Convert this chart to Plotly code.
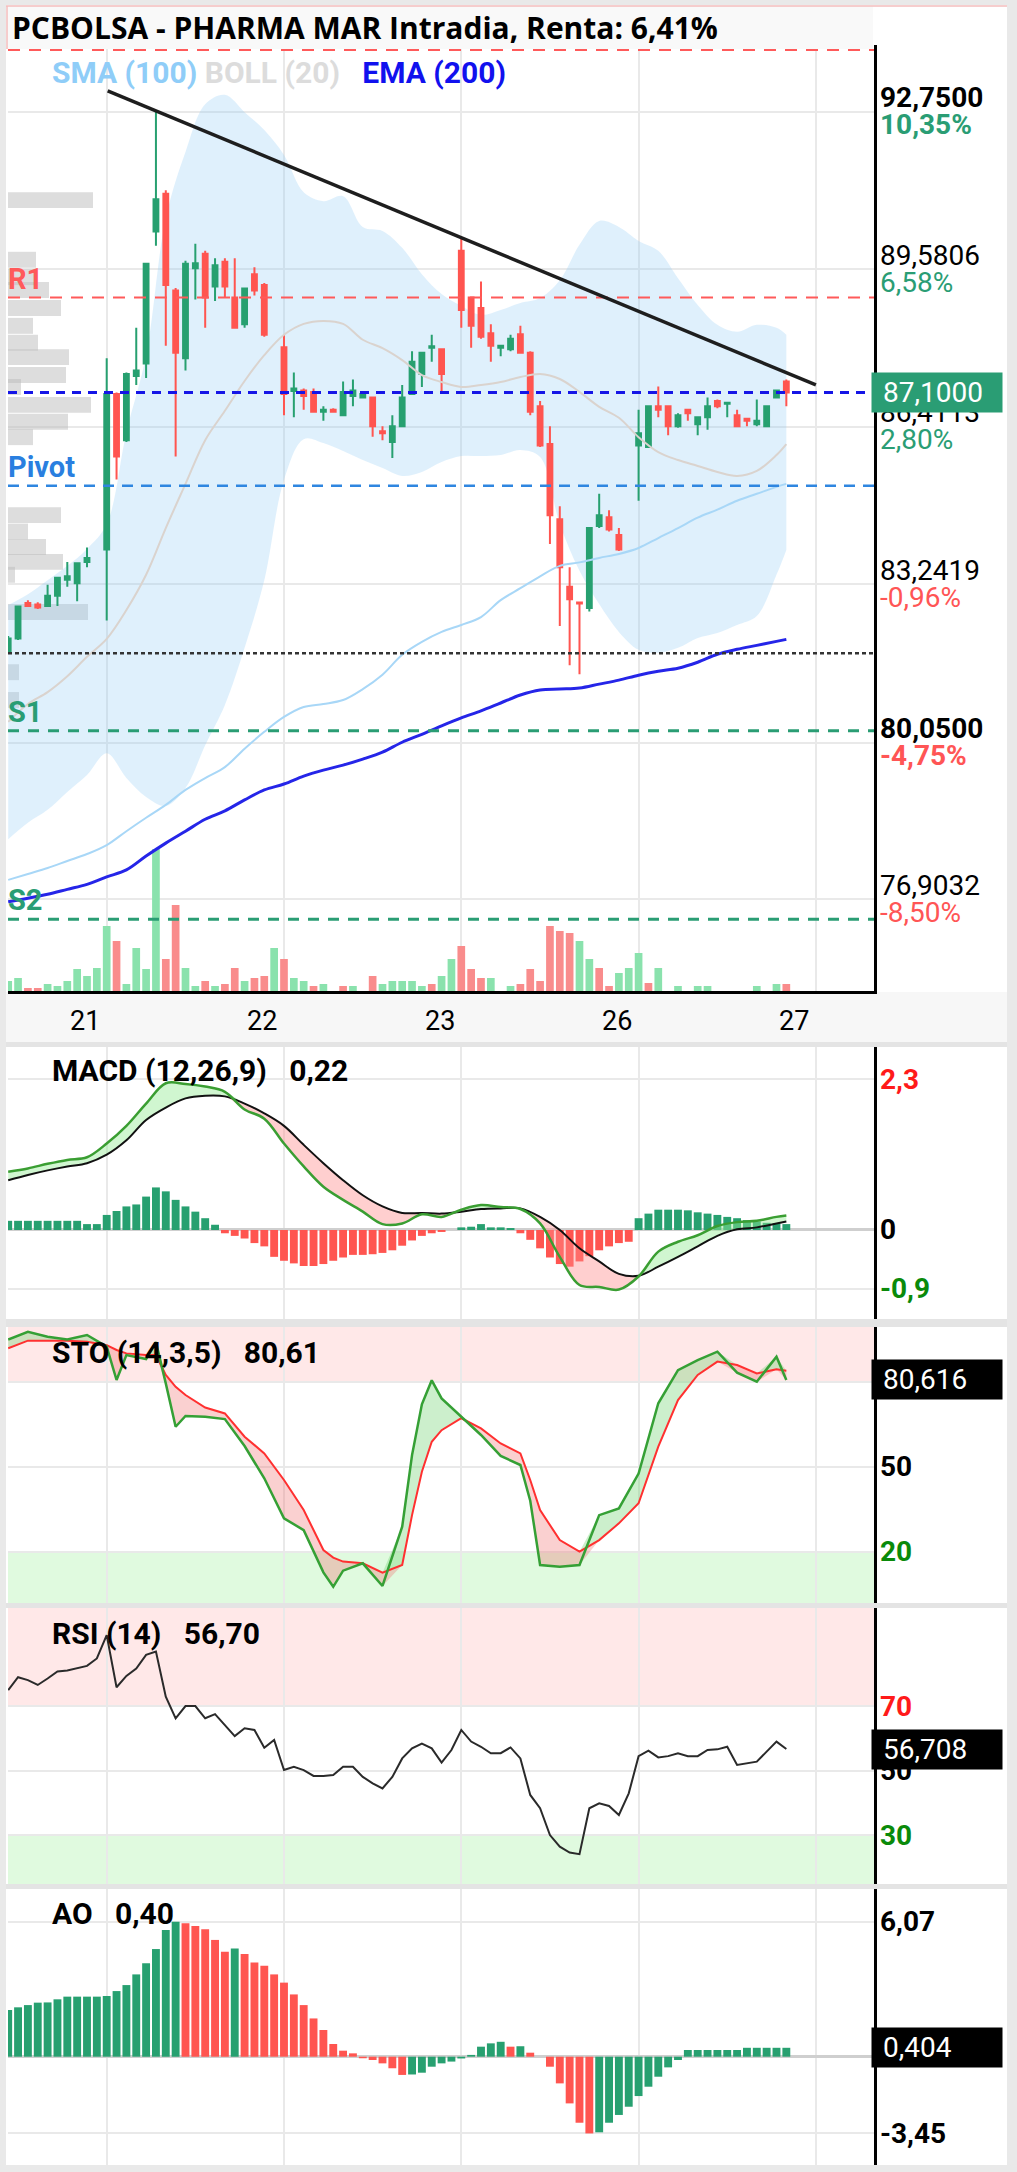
import numpy as np
import plotly.graph_objects as go

W, H = 1017, 2172

# ---------------- data ----------------
title_text = "PCBOLSA - PHARMA MAR Intradia, Renta: 6,41%"
day_labels = ["21", "22", "23", "26", "27"]
day_ticks = [10, 28, 46, 64, 82]

# 30-min candles (bar index on the time axis)
candle_x = [0, 1, 2, 3, 4, 5, 6, 7, 8,
            10, 11, 12, 13, 14, 15, 16, 17, 18, 19, 20, 21, 22, 23, 24, 25, 26,
            28, 29, 30, 31, 32, 33, 34, 35, 36, 37, 38, 39, 40, 41, 42, 43, 44,
            46, 47, 48, 49, 50, 51, 52, 53, 54, 55, 56, 57, 58, 59, 60, 61, 62,
            64, 65, 66, 67, 68, 69, 70, 71, 72, 73, 74, 75, 76, 77, 78, 79]
opens = [81.88, 82.15, 82.86, 82.83, 82.80, 83.01, 83.33, 83.26, 83.69,
         83.94, 87.07, 86.14, 87.43, 87.68, 90.34, 91.10, 89.15, 87.79, 89.60, 89.89, 89.23, 89.73, 89.01, 88.47, 89.48, 89.26,
         88.01, 87.13, 87.14, 87.11, 86.71, 86.75, 86.64, 87.03, 87.00, 87.00, 86.32, 86.10, 86.42, 87.07, 87.47, 88.00, 87.97,
         89.95, 89.01, 88.80, 88.29, 88.00, 87.97, 88.27, 87.90, 86.82, 86.06, 84.55, 83.19, 82.87, 82.76, 84.41, 84.59, 84.23,
         86.03, 86.00, 86.82, 86.82, 86.42, 86.75, 86.46, 86.60, 86.93, 86.87, 86.64, 86.57, 86.46, 86.42, 87.00, 87.32]
highs = [82.20, 82.80, 82.92, 82.88, 83.23, 83.38, 83.69, 83.66, 83.98,
         87.79, 87.10, 87.50, 88.40, 89.70, 92.75, 91.17, 89.20, 89.75, 90.09, 89.95, 89.80, 89.80, 89.80, 89.20, 89.62, 89.30,
         88.26, 87.50, 87.18, 87.18, 86.82, 86.78, 87.32, 87.36, 87.10, 87.00, 86.42, 86.64, 87.25, 87.93, 87.90, 88.26, 87.97,
         90.23, 89.01, 89.33, 88.47, 88.04, 88.26, 88.44, 87.93, 86.93, 86.42, 84.81, 83.58, 82.87, 84.37, 85.06, 84.73, 84.37,
         86.75, 86.82, 87.22, 86.82, 86.68, 86.75, 86.62, 87.00, 86.96, 86.89, 86.75, 86.57, 86.96, 86.82, 87.14, 87.36]
lows = [81.85, 82.12, 82.78, 82.74, 82.78, 82.80, 83.19, 82.90, 83.58,
        82.51, 85.35, 86.10, 87.25, 87.39, 90.05, 88.04, 85.81, 87.54, 88.97, 88.40, 88.94, 89.01, 88.40, 88.40, 89.05, 88.22,
        86.64, 86.60, 86.75, 86.71, 86.53, 86.70, 86.64, 86.82, 86.99, 86.21, 86.14, 85.78, 86.42, 87.07, 87.21, 87.72, 87.11,
        88.40, 88.00, 88.18, 87.72, 87.83, 87.93, 87.90, 86.64, 86.00, 84.05, 82.40, 81.61, 81.43, 82.69, 84.37, 84.30, 83.91,
        84.92, 86.00, 86.60, 86.24, 86.39, 86.53, 86.24, 86.35, 86.78, 86.60, 86.42, 86.42, 86.42, 86.42, 87.00, 86.82]
closes = [82.15, 82.79, 82.80, 82.77, 83.01, 83.37, 83.40, 83.66, 83.77,
          87.07, 85.81, 87.47, 87.54, 89.69, 90.99, 89.26, 87.90, 89.69, 89.70, 89.01, 89.66, 89.23, 88.40, 89.19, 89.15, 88.26,
          87.07, 87.18, 87.03, 86.71, 86.75, 86.71, 87.11, 87.14, 87.07, 86.42, 86.28, 86.42, 87.00, 87.72, 87.90, 88.03, 87.47,
          88.76, 88.44, 88.22, 88.04, 88.04, 88.18, 87.90, 86.71, 86.03, 84.63, 83.58, 82.94, 82.85, 84.37, 84.63, 84.34, 83.94,
          86.28, 86.82, 86.75, 86.42, 86.64, 86.68, 86.60, 86.82, 86.82, 86.89, 86.42, 86.53, 86.53, 86.82, 87.14, 87.10]

# volume per bar slot (relative units) and its colour side
volume = [10, 13, 3, 3, 7, 5, 10, 22, 15, 23, 65, 50, 7, 43, 22, 142, 32, 86, 23, 5,
          10, 5, 7, 23, 10, 13, 15, 43, 32, 13, 10, 5, 7, 0, 5, 5, 0, 15, 7, 10,
          10, 10, 5, 7, 15, 32, 45, 22, 13, 13, 0, 5, 7, 22, 10, 65, 60, 58, 50, 32,
          23, 5, 18, 23, 38, 8, 23, 0, 5, 0, 5, 5, 0, 0, 0, 0, 5, 0, 7, 7]
volume_side = "GGRRGGGGGGGRGGGGRRGGRGRRGRRGRGGRGGRGRRGGGGGRGGRRRGGGRRRRRRGGRRGGGRGGGRGGGGGGGGGR"

# volume-at-price profile (left side)
profile_price = [90.97, 89.77, 89.42, 89.16, 88.80, 88.44, 88.10, 87.81, 87.45, 87.21, 86.85,
                 86.51, 86.20, 84.63, 84.30, 83.99, 83.69, 83.43, 82.68, 81.47, 80.91]
profile_vol = [85, 28, 28, 41, 53, 25, 30, 61, 58, 13, 83, 60, 25, 53, 20, 38, 55, 7, 80, 11, 11]

# overlays sampled every other bar
line_x = [0, 2, 4, 6, 8, 10, 12, 14, 16, 18, 20, 22, 24, 26, 28, 30, 32, 34, 36, 38,
          40, 42, 44, 46, 48, 50, 52, 54, 56, 58, 60, 62, 64, 66, 68, 70, 72, 74, 76, 78, 79]
boll_upper = [82.82, 83.04, 83.32, 83.61, 83.95, 84.45, 86.30, 87.85, 90.61, 91.94, 92.90, 93.09, 92.74, 92.38,
              91.88, 91.13, 90.95, 91.05, 90.43, 90.35, 90.01, 89.48, 89.08, 88.84, 88.66, 88.76, 88.90, 89.00,
              89.36, 90.07, 90.55, 90.43, 90.15, 89.95, 89.40, 88.86, 88.46, 88.32, 88.46, 88.40, 88.26]
boll_lower = [78.11, 78.44, 78.70, 79.06, 79.40, 79.84, 79.34, 78.96, 78.78, 79.14, 80.00, 80.81, 81.96, 83.32,
              85.34, 86.16, 86.08, 85.92, 85.74, 85.58, 85.42, 85.50, 85.70, 85.82, 85.82, 85.84, 85.94, 85.80,
              84.45, 83.51, 82.84, 82.28, 81.92, 81.86, 81.96, 82.16, 82.26, 82.42, 82.60, 83.43, 83.93]
boll_mid = [80.47, 80.83, 81.07, 81.39, 81.78, 82.14, 82.72, 83.43, 84.37, 85.26, 86.14, 86.73, 87.33, 87.85,
            88.26, 88.48, 88.54, 88.48, 88.16, 87.99, 87.75, 87.45, 87.31, 87.21, 87.25, 87.31, 87.41, 87.47,
            87.37, 87.11, 86.81, 86.59, 86.20, 85.90, 85.74, 85.62, 85.50, 85.42, 85.52, 85.84, 86.06]
sma100 = [77.29, 77.41, 77.53, 77.67, 77.81, 77.99, 78.27, 78.54, 78.80, 79.10, 79.34, 79.56, 79.93, 80.27,
          80.57, 80.77, 80.83, 80.91, 81.13, 81.42, 81.82, 82.08, 82.28, 82.42, 82.58, 82.92, 83.16, 83.40,
          83.61, 83.68, 83.77, 83.85, 83.97, 84.17, 84.37, 84.58, 84.74, 84.92, 85.06, 85.20, 85.26]
ema200 = [76.85, 76.92, 77.00, 77.10, 77.20, 77.35, 77.49, 77.77, 78.03, 78.27, 78.51, 78.68, 78.90, 79.10,
          79.22, 79.38, 79.50, 79.60, 79.72, 79.86, 80.06, 80.22, 80.39, 80.55, 80.69, 80.85, 81.01, 81.11,
          81.13, 81.15, 81.23, 81.31, 81.41, 81.49, 81.55, 81.67, 81.83, 81.93, 82.01, 82.09, 82.13]

trend_x = [10.1, 82.0]
trend_y = [93.17, 87.25]

level_names = ["R2", "R1", "Last", "Pivot", "Close", "S1", "S2"]
level_values = [93.99, 89.01, 87.10, 85.22, 81.85, 80.29, 76.50]
level_colors = ["#FF5A5A", "#FF5A5A", "#1515E6", "#2F86E0", "#333333", "#2A9D74", "#2A9D74"]
level_dash = ["12px,9px", "12px,9px", "9px,7px", "11px,8px", "4px,3px", "11px,9px", "11px,9px"]
level_width = [2, 2, 3, 2.5, 2.5, 3, 3]

price_ticks = [92.75, 89.5806, 86.4113, 83.2419, 80.05, 76.9032]
price_tick_text = ["92,7500", "89,5806", "86,4113", "83,2419", "80,0500", "76,9032"]
price_pct_text = ["10,35%", "6,58%", "2,80%", "-0,96%", "-4,75%", "-8,50%"]
price_tick_bold = [True, False, False, False, True, False]
last_price_text = "87,1000"

# MACD (12,26,9)
all_x = list(range(80))
macd_line = [0.89, 0.94, 1.01, 1.07, 1.11, 1.32, 1.59, 1.93, 2.24, 2.23, 2.19, 2.11, 1.84, 1.70, 1.32,
             0.97, 0.66, 0.46, 0.28, 0.09, 0.10, 0.24, 0.20, 0.31, 0.38, 0.35, 0.32, 0.10, -0.41, -0.84,
             -0.87, -0.91, -0.71, -0.33, -0.18, -0.08, 0.06, 0.12, 0.14, 0.20, 0.22]
macd_signal = [0.76, 0.84, 0.91, 0.97, 1.02, 1.15, 1.37, 1.68, 1.87, 2.01, 2.05, 2.04, 1.93, 1.78, 1.59,
               1.30, 1.02, 0.76, 0.53, 0.36, 0.26, 0.26, 0.25, 0.28, 0.32, 0.33, 0.33, 0.20, 0.00, -0.28,
               -0.48, -0.67, -0.70, -0.56, -0.41, -0.25, -0.09, 0.01, 0.04, 0.10, 0.13]
macd_hist = [0.14, 0.14, 0.14, 0.14, 0.14, 0.14, 0.14, 0.14, 0.09, 0.09,
             0.23, 0.29, 0.36, 0.39, 0.51, 0.65, 0.59, 0.46, 0.36, 0.28, 0.18, 0.08,
             -0.05, -0.09, -0.13, -0.20, -0.25, -0.41, -0.47, -0.51, -0.55, -0.55, -0.52, -0.47,
             -0.42, -0.38, -0.38, -0.37, -0.35, -0.31, -0.24, -0.16, -0.09, -0.05, -0.03,
             0.0, 0.04, 0.05, 0.09, 0.04, 0.04, 0.03,
             -0.05, -0.15, -0.28, -0.42, -0.52, -0.56, -0.48, -0.40, -0.31, -0.25, -0.20, -0.18,
             0.18, 0.25, 0.31, 0.31, 0.31, 0.30, 0.27, 0.25, 0.23, 0.20, 0.18, 0.15, 0.13, 0.11, 0.10, 0.09]

# Stochastic (14,3,5)
sto_x = [0, 2, 4, 6, 8, 10, 11, 12, 14, 15, 16, 17, 18, 20, 22, 24, 26, 28, 30, 32, 33, 34, 36, 38,
         40, 41, 42, 43, 44, 46, 48, 50, 52, 53, 54, 56, 58, 60, 62, 64, 66, 68, 70, 72, 74, 76, 78, 79]
sto_k = [94.9, 97.6, 95.9, 94.9, 96.5, 92.4, 80.6, 89.4, 88.0, 94.0, 79.4, 64.1, 67.9, 67.6, 66.8, 57.3,
         45.9, 31.8, 27.6, 12.7, 7.6, 13.3, 15.9, 7.9, 28.8, 54.1, 72.0, 80.5, 74.1, 67.6, 61.2, 53.8,
         50.6, 38.0, 15.3, 14.7, 15.3, 32.9, 35.3, 47.6, 72.4, 84.1, 87.6, 90.6, 83.2, 80.0, 88.8, 80.6]
sto_d = [91.8, 94.5, 94.5, 94.5, 94.1, 92.9, 91.2, 90.0, 89.4, 89.4, 82.4, 78.2, 75.3, 70.9, 68.8, 60.6,
         54.7, 45.3, 34.7, 20.6, 17.9, 16.5, 15.9, 12.6, 15.3, 32.9, 48.2, 58.8, 62.9, 67.1, 63.5, 58.2,
         54.7, 45.3, 34.7, 24.1, 20.0, 24.1, 30.0, 37.1, 57.1, 73.5, 82.4, 87.1, 85.9, 82.9, 84.4, 83.9]

# RSI (14)
rsi = [74.9, 78.9, 78.0, 76.5, 78.5, 80.7, 81.0, 81.7, 82.4, 84.7, 91.9, 75.8, 79.3, 81.6, 85.8, 86.8,
       72.9, 66.2, 70.0, 70.0, 66.2, 67.5, 64.1, 60.7, 63.1, 62.6, 57.1, 59.5, 50.2, 51.2, 50.2, 48.4,
       48.4, 48.7, 51.2, 51.2, 48.1, 46.1, 44.5, 48.1, 53.8, 56.9, 58.4, 56.9, 52.5, 56.4, 62.6, 59.0,
       57.4, 55.4, 55.4, 57.2, 53.8, 42.5, 38.4, 30.1, 26.5, 24.7, 24.2, 38.4, 39.9, 39.1, 36.3, 43.0,
       54.5, 56.2, 54.1, 54.5, 55.4, 54.5, 54.5, 56.4, 56.6, 57.4, 51.8, 52.3, 52.8, 55.9, 59.0, 56.7]

# Awesome Oscillator
ao = [2.10, 2.22, 2.32, 2.43, 2.44, 2.58, 2.70, 2.70, 2.70, 2.70, 2.73, 2.95, 3.22, 3.70, 4.20, 4.84,
      5.70, 6.07, 6.00, 5.88, 5.73, 5.25, 4.72, 4.87, 4.62, 4.23, 4.09, 3.70, 3.33, 2.80, 2.32, 1.72,
      1.20, 0.57, 0.27, 0.15, -0.07, -0.15, -0.30, -0.52, -0.82, -0.80, -0.72, -0.45, -0.30, -0.22,
      -0.08, 0.08, 0.45, 0.60, 0.67, 0.45, 0.47, 0.18, 0.0, -0.45, -1.20, -2.10, -2.97, -3.45, -3.40,
      -2.97, -2.62, -2.25, -1.77, -1.35, -0.90, -0.48, -0.15, 0.30, 0.30, 0.30, 0.30, 0.30, 0.30, 0.40,
      0.40, 0.40, 0.40, 0.40]

# ---------------- styling ----------------
GREEN = "#27A070"
RED = "#FF5550"
GRID = "#E9E9E9"
FONT = "Roboto"
XR = [-0.02, 87.9]
PROFILE_SCALE = 1 / 9.85   # profile units -> bar slots
LBL = 28                   # axis label font size


def dom(top, bot):
    return [1 - bot / H, 1 - top / H]


def pyf(p):
    return 1 - p / H


fig = go.Figure()

# ---- main subplot A (x, y): Bollinger band fill + volume profile ----
fig.add_trace(go.Bar(x=np.array(profile_vol) * PROFILE_SCALE, y=profile_price, base=XR[0], orientation="h",
                     width=0.32, marker=dict(color="rgba(188,188,188,0.5)", line_width=0),
                     xaxis="x", yaxis="y", hoverinfo="skip"))
fig.add_trace(go.Scatter(x=line_x, y=boll_lower, mode="lines", line=dict(width=0, shape="spline"),
                         xaxis="x", yaxis="y", hoverinfo="skip"))
fig.add_trace(go.Scatter(x=line_x, y=boll_upper, mode="lines", line=dict(width=0, shape="spline"),
                         fill="tonexty", fillcolor="rgba(150,205,245,0.30)", xaxis="x", yaxis="y",
                         hoverinfo="skip"))

# ---- subplot B (x, y2): volume ----
fig.add_trace(go.Bar(x=all_x, y=volume, width=0.78,
                     marker=dict(color=["#8AE2AD" if s == "G" else "#F98C8C" for s in volume_side], line_width=0),
                     xaxis="x", yaxis="y2", hoverinfo="skip"))

# ---- subplot C (x, y3): lines, levels, candles ----
fig.add_trace(go.Scatter(x=line_x, y=boll_mid, mode="lines", line=dict(color="#DAD3CE", width=2, shape="spline"),
                         xaxis="x", yaxis="y3", hoverinfo="skip"))
fig.add_trace(go.Scatter(x=line_x, y=sma100, mode="lines", line=dict(color="#A8D7F7", width=2, shape="spline"),
                         xaxis="x", yaxis="y3", hoverinfo="skip"))
fig.add_trace(go.Scatter(x=line_x, y=ema200, mode="lines", line=dict(color="#2525E8", width=3, shape="spline"),
                         xaxis="x", yaxis="y3", hoverinfo="skip"))
for v, c, d, w in zip(level_values, level_colors, level_dash, level_width):
    fig.add_trace(go.Scatter(x=XR, y=[v, v], mode="lines", line=dict(color=c, width=w, dash=d),
                             xaxis="x", yaxis="y3", hoverinfo="skip"))
fig.add_trace(go.Candlestick(x=candle_x, open=opens, high=highs, low=lows, close=closes,
                             increasing=dict(line=dict(color=GREEN, width=2), fillcolor=GREEN),
                             decreasing=dict(line=dict(color=RED, width=2), fillcolor=RED),
                             whiskerwidth=0, xaxis="x", yaxis="y3", hoverinfo="skip"))
fig.add_trace(go.Scatter(x=trend_x, y=trend_y, mode="lines", line=dict(color="#1E1E1E", width=3.5),
                         xaxis="x", yaxis="y3", hoverinfo="skip"))

# ---- MACD (x2, y4) ----
fig.add_trace(go.Bar(x=all_x, y=macd_hist, width=0.8,
                     marker=dict(color=[GREEN if v >= 0 else RED for v in macd_hist], line_width=0),
                     xaxis="x2", yaxis="y4", hoverinfo="skip"))
m = np.array(macd_line)
s = np.array(macd_signal)
for bound, col in ((np.maximum(m, s), "rgba(150,235,150,0.45)"), (np.minimum(m, s), "rgba(255,140,140,0.42)")):
    fig.add_trace(go.Scatter(x=line_x, y=s, mode="lines", line=dict(width=0, shape="spline"),
                             xaxis="x2", yaxis="y4", hoverinfo="skip"))
    fig.add_trace(go.Scatter(x=line_x, y=bound, mode="lines", line=dict(width=0, shape="spline"), fill="tonexty",
                             fillcolor=col, xaxis="x2", yaxis="y4", hoverinfo="skip"))
fig.add_trace(go.Scatter(x=line_x, y=macd_signal, mode="lines", line=dict(color="#111111", width=2, shape="spline"),
                         xaxis="x2", yaxis="y4", hoverinfo="skip"))
fig.add_trace(go.Scatter(x=line_x, y=macd_line, mode="lines", line=dict(color="#3A9E32", width=2.5, shape="spline"),
                         xaxis="x2", yaxis="y4", hoverinfo="skip"))

# ---- STO (x3, y5) ----
k = np.array(sto_k)
d = np.array(sto_d)
for bound, col in ((np.maximum(k, d), "rgba(110,210,110,0.35)"), (np.minimum(k, d), "rgba(240,110,110,0.32)")):
    fig.add_trace(go.Scatter(x=sto_x, y=d, mode="lines", line=dict(width=0),
                             xaxis="x3", yaxis="y5", hoverinfo="skip"))
    fig.add_trace(go.Scatter(x=sto_x, y=bound, mode="lines", line=dict(width=0), fill="tonexty",
                             fillcolor=col, xaxis="x3", yaxis="y5", hoverinfo="skip"))
fig.add_trace(go.Scatter(x=sto_x, y=sto_d, mode="lines", line=dict(color="#FF3030", width=2),
                         xaxis="x3", yaxis="y5", hoverinfo="skip"))
fig.add_trace(go.Scatter(x=sto_x, y=sto_k, mode="lines", line=dict(color="#35A035", width=2.5),
                         xaxis="x3", yaxis="y5", hoverinfo="skip"))

# ---- RSI (x4, y6) ----
fig.add_trace(go.Scatter(x=all_x, y=rsi, mode="lines", line=dict(color="#2A2A2A", width=2),
                         xaxis="x4", yaxis="y6", hoverinfo="skip"))

# ---- AO (x5, y7) ----
ao_cols = [GREEN if (i == 0 or ao[i] >= ao[i - 1]) else RED for i in range(len(ao))]
fig.add_trace(go.Bar(x=all_x, y=ao, width=0.8, marker=dict(color=ao_cols, line_width=0),
                     xaxis="x5", yaxis="y7", hoverinfo="skip"))

# ---------------- axes ----------------
xdom = [8 / W, 874 / W]
cx = dict(domain=xdom, range=XR, tickvals=day_ticks, showticklabels=False, showgrid=True, gridcolor=GRID,
          gridwidth=2, zeroline=False, ticks="", fixedrange=True)
cy = dict(side="right", showticklabels=False, showgrid=True, gridcolor=GRID, gridwidth=2, ticks="",
          showline=True, linecolor="black", linewidth=2.5, fixedrange=True)
PR = [75.054, 94.092]
layout_axes = dict(
    xaxis=dict(**cx, anchor="y", showline=True, linecolor="black", linewidth=3, rangeslider=dict(visible=False)),
    xaxis2=dict(**cx, anchor="y4"),
    xaxis3=dict(**cx, anchor="y5"),
    xaxis4=dict(**cx, anchor="y6"),
    xaxis5=dict(**cx, anchor="y7"),
    yaxis=dict(**cy, domain=dom(45, 991), range=PR, anchor="x", tickvals=price_ticks, zeroline=False),
    yaxis2=dict(overlaying="y", anchor="x", range=[0, 946], visible=False, fixedrange=True),
    yaxis3=dict(overlaying="y", anchor="x", range=PR, visible=False, fixedrange=True),
    yaxis4=dict(**cy, domain=dom(1047, 1319), range=[-1.359, 2.794], anchor="x2", tickvals=[-0.9, 2.3],
                zeroline=True, zerolinecolor="#CFCFCF", zerolinewidth=3),
    yaxis5=dict(**cy, domain=dom(1327, 1603), range=[1.89, 99.31], anchor="x3", tickvals=[20, 50, 80],
                zeroline=False),
    yaxis6=dict(**cy, domain=dom(1608, 1884), range=[14.98, 100.29], anchor="x4", tickvals=[30, 50, 70],
                zeroline=False),
    yaxis7=dict(**cy, domain=dom(1889, 2165), range=[-4.87, 7.54], anchor="x5", tickvals=[-3.45, 6.07],
                zeroline=True, zerolinecolor="#CFCFCF", zerolinewidth=3),
)

# ---------------- shapes ----------------
shapes = []


def prect(x0, y0, x1, y1, color, layer="below"):
    shapes.append(dict(type="rect", xref="paper", yref="paper", x0=x0 / W, x1=x1 / W, y0=pyf(y1), y1=pyf(y0),
                       fillcolor=color, line_width=0, layer=layer))


prect(0, 0, W, 5, "#E9E9E9")
prect(0, 0, 6, H, "#E9E9E9")
prect(1007, 0, W, H, "#E9E9E9")
prect(0, 2165, W, H, "#E9E9E9")
prect(6, 992, 1007, 1042, "#F7F7F7")
for t, b in ((1042, 1047), (1319, 1327), (1603, 1608), (1884, 1889)):
    prect(6, t, 1007, b, "#E4E4E4")
prect(7, 6, 873, 49, "#F9F9F9", layer="above")
shapes.append(dict(type="line", xref="paper", yref="paper", x0=6 / W, x1=1007 / W, y0=pyf(6), y1=pyf(6),
                   line=dict(color="#F3BDBD", width=1.5), layer="above"))
shapes.append(dict(type="line", xref="paper", yref="paper", x0=7 / W, x1=7 / W, y0=pyf(49), y1=pyf(6),
                   line=dict(color="#F3BDBD", width=1.5), layer="above"))
# overbought / oversold zones
for yref, lo, hi, col in (("y5", 80, 99.31, "#FFE8E8"), ("y5", 1.89, 20, "#E0FADF"),
                          ("y6", 70, 100.29, "#FFE8E8"), ("y6", 14.98, 30, "#E0FADF")):
    shapes.append(dict(type="rect", xref="x domain", yref=yref, x0=0, x1=1, y0=lo, y1=hi,
                       fillcolor=col, line_width=0, layer="below"))

# ---------------- annotations ----------------
ann = []


def txt(text, x, y, size=LBL, color="black", xref="paper", yref="paper", xanchor="left", yanchor="middle",
        family=FONT, **kw):
    ann.append(dict(text=text, x=x, y=y, xref=xref, yref=yref, xanchor=xanchor, yanchor=yanchor,
                    showarrow=False, font=dict(family=family, size=size, color=color), **kw))


LX = 878 / W
txt("<b>" + title_text + "</b>", 10 / W, pyf(27), size=30, family="Open Sans")
txt('<b><span style="color:#8FCDF8">SMA (100)</span> <span style="color:#DCDCDC">BOLL (20)</span>'
    '\u00a0\u00a0\u00a0<span style="color:#1111EE">EMA (200)</span></b>', 50 / W, pyf(73), size=30)

for v, t, p, b in zip(price_ticks, price_tick_text, price_pct_text, price_tick_bold):
    pc = "#2A9D74" if not p.startswith("-") else "#FF5555"
    txt(("<b>%s</b>" % t) if b else t, LX, v, yref="y", yshift=14)
    txt(("<b>%s</b>" % p) if b else p, LX, v, yref="y", yshift=-13, color=pc)
txt("\u00a0" + last_price_text, 871 / W, level_values[2], yref="y", color="white", bgcolor="#2A9D74",
    width=122, height=31, borderpad=4, align="left")

for name, v, c in (("R1", level_values[1], "#FF5A5A"), ("Pivot", level_values[3], "#2A7FE0"),
                   ("S1", level_values[5], "#2A9D74"), ("S2", level_values[6], "#2A9D74")):
    txt("<b>%s</b>" % name, 6 / W, v, yref="y", yanchor="bottom", yshift=0, size=29, color=c)

for tv, lab in zip(day_ticks, day_labels):
    txt(lab, tv - 2.2, pyf(1021), xref="x", xanchor="center", size=27)

NB = "\u00a0\u00a0\u00a0"
txt("<b>MACD (12,26,9)" + NB + "0,22</b>", 50 / W, pyf(1070), size=30)
txt("<b>STO (14,3,5)" + NB + "80,61</b>", 50 / W, pyf(1352), size=30)
txt("<b>RSI (14)" + NB + "56,70</b>", 50 / W, pyf(1633), size=30)
txt("<b>AO" + NB + "0,40</b>", 50 / W, pyf(1913), size=30)

txt("<b>2,3</b>", LX, 2.3, yref="y4", color="#FF1A1A")
txt("<b>0</b>", LX, 0, yref="y4")
txt("<b>-0,9</b>", LX, -0.9, yref="y4", color="#0A8A0A")

txt("<b>50</b>", LX, 50, yref="y5")
txt("<b>20</b>", LX, 20, yref="y5", color="#0A8A0A")
txt("\u00a080,616", 871 / W, 80.616, yref="y5", color="white", bgcolor="black",
    width=122, height=31, borderpad=4, align="left")

txt("<b>70</b>", LX, 70, yref="y6", color="#FF1A1A")
txt("<b>50</b>", LX, 50, yref="y6")
txt("<b>30</b>", LX, 30, yref="y6", color="#0A8A0A")
txt("\u00a056,708", 871 / W, 56.708, yref="y6", color="white", bgcolor="black",
    width=122, height=31, borderpad=4, align="left")

txt("<b>6,07</b>", LX, 6.07, yref="y7")
txt("<b>-3,45</b>", LX, -3.45, yref="y7")
txt("\u00a00,404", 871 / W, 0.404, yref="y7", color="white", bgcolor="black",
    width=122, height=31, borderpad=4, align="left")

fig.update_layout(
    width=W, height=H, margin=dict(l=0, r=0, t=0, b=0, pad=0), autosize=False,
    paper_bgcolor="white", plot_bgcolor="white", showlegend=False, barmode="overlay",
    font=dict(family=FONT, size=LBL, color="black"),
    shapes=shapes, annotations=ann, hovermode=False,
    **layout_axes,
)

fig.write_html("out.html", config=dict(displayModeBar=False, staticPlot=True))
